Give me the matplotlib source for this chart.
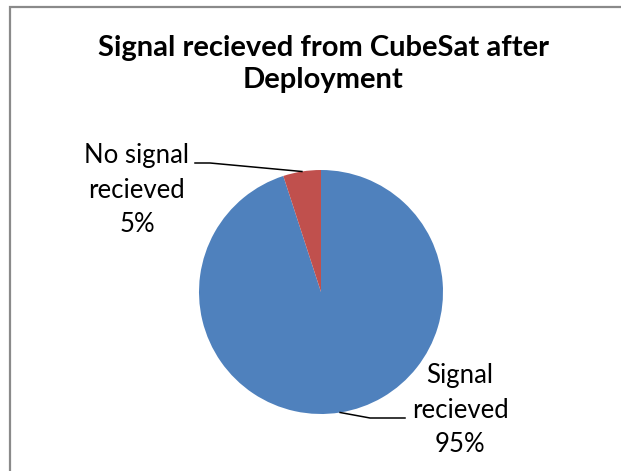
import numpy as np
import matplotlib
matplotlib.use("Agg")
import matplotlib.pyplot as plt
from matplotlib.patches import Rectangle

# Chart data
categories = ["Signal\nrecieved", "No signal\nrecieved"]
shares = [95, 5]
colors = ["#4F81BD", "#C0504D"]
title = "Signal recieved from CubeSat after\nDeployment"

W, H = 621, 471
fig = plt.figure(figsize=(W / 100, H / 100), dpi=100)
fig.patch.set_facecolor("white")

# chart-area frame
fig.add_artist(Rectangle((10 / W, -0.1), 1.2, 1 - 7 / H + 0.1,
                         transform=fig.transFigure, fill=False,
                         edgecolor="#8a8a8a", linewidth=1.6))

# pie axes: centre (321, 292) px, radius 122 px
cx, cy, r = 321, 292, 122
ax = fig.add_axes([(cx - r) / W, (H - cy - r) / H, 2 * r / W, 2 * r / H])
wedges, _ = ax.pie(shares, colors=colors, startangle=90, counterclock=False,
                   radius=1, wedgeprops=dict(linewidth=0))
ax.set_xlim(-1, 1)
ax.set_ylim(-1, 1)
ax.axis("off")

def px(x, y):
    return (x - cx) / r, (cy - y) / r

font = "Lato"
fig.text(323 / W, 1 - 64 / H, title, ha="center", va="center", fontsize=21,
         fontweight="bold", family=font, linespacing=1.33)

# label positions (pixel space) and leader elbows
label_pos = [(460, 410), (137, 190)]
elbows = [[(370, 418), (405, 418)], [(210, 163), (195, 163)]]

for w, cat, share, lp, elb in zip(wedges, categories, shares, label_pos, elbows):
    mid = np.deg2rad((w.theta1 + w.theta2) / 2)
    edge = (np.cos(mid), np.sin(mid))
    pts = [edge] + [px(*p) for p in elb]
    xs, ys = zip(*pts)
    ax.plot(xs, ys, color="black", lw=1.1, clip_on=False)
    tx, ty = px(*lp)
    ax.text(tx, ty, f"{cat}\n{share}%", ha="center", va="center",
            fontsize=18.5, family=font, linespacing=1.45, clip_on=False)

fig.savefig("out.png", dpi=100)
